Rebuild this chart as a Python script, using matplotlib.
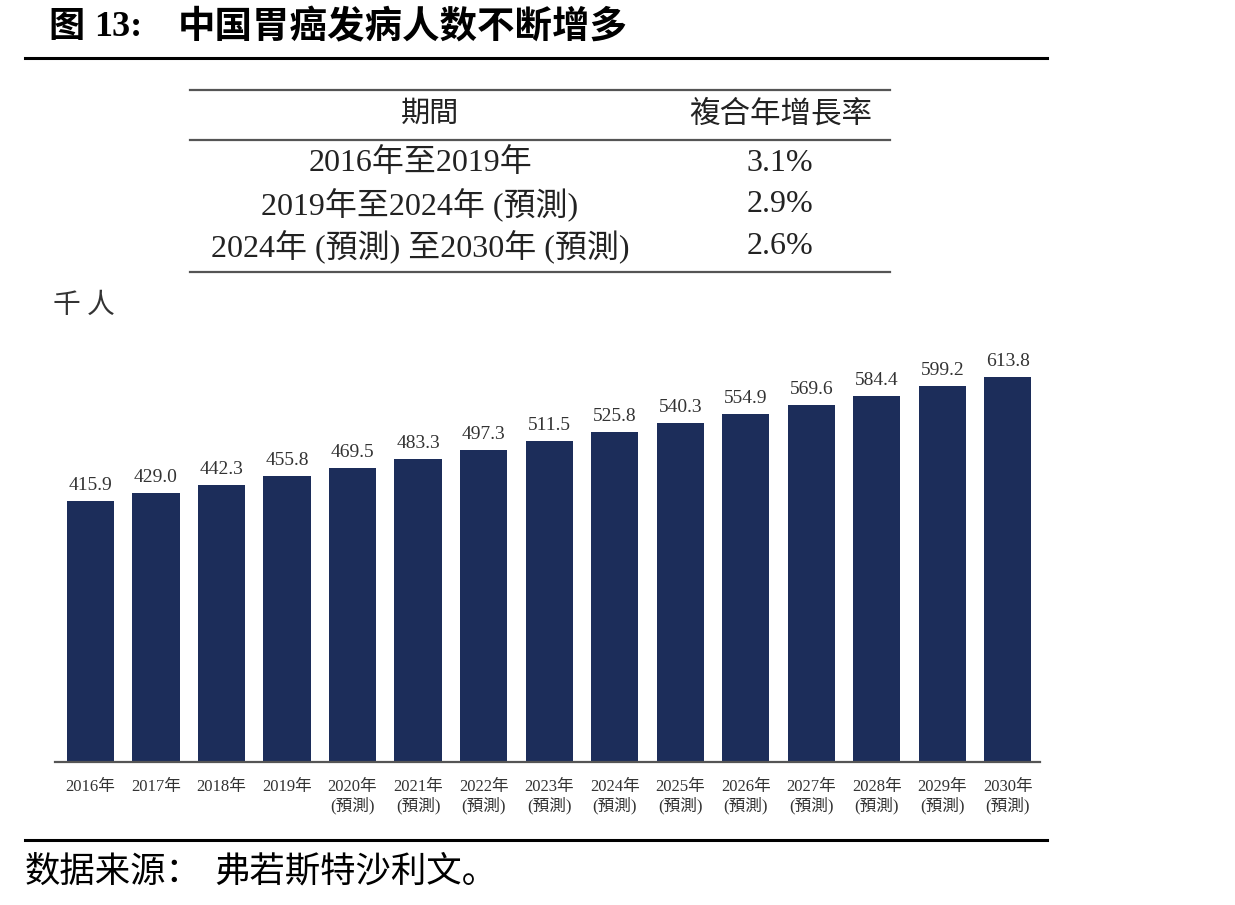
import matplotlib
matplotlib.use("Agg")
import matplotlib.pyplot as plt

years = ["2016年", "2017年", "2018年", "2019年", "2020年", "2021年", "2022年", "2023年",
         "2024年", "2025年", "2026年", "2027年", "2028年", "2029年", "2030年"]
forecast = [False] * 4 + [True] * 11
values = [415.9, 429.0, 442.3, 455.8, 469.5, 483.3, 497.3, 511.5,
          525.8, 540.3, 554.9, 569.6, 584.4, 599.2, 613.8]

periods = ["2016年至2019年", "2019年至2024年 (預測)", "2024年 (預測) 至2030年 (預測)"]
cagr = ["3.1%", "2.9%", "2.6%"]

BAR = "#1c2d5a"
TXT = "#333333"
MIX = ["Liberation Serif", "Noto Sans CJK TC"]
CJK = ["Noto Sans CJK SC", "DejaVu Sans"]

W, H = 1235, 905
fig = plt.figure(figsize=(W / 100, H / 100), dpi=100)


def fx(px):
    return px / W


def fy(py):
    return 1 - py / H


def hline(x0, x1, y, lw, color):
    fig.add_artist(plt.Line2D([fx(x0), fx(x1)], [fy(y), fy(y)], lw=lw, color=color,
                              transform=fig.transFigure))


# title + rules
fig.text(fx(48), fy(27), "图", fontsize=26, fontweight="bold", family=CJK,
         va="center", ha="left", color="black")
fig.text(fx(94), fy(27), "13:", fontsize=26, fontweight="bold", family=MIX,
         va="center", ha="left", color="black")
fig.text(fx(178), fy(27), "中国胃癌发病人数不断增多", fontsize=27, fontweight="bold",
         family=CJK, va="center", ha="left", color="black")
hline(25, 1047, 58, 2.2, "black")
hline(25, 1047, 840, 2.2, "black")
fig.text(fx(25), fy(872), "数据来源：", fontsize=25.5, family=CJK, fontweight="light",
         va="center", ha="left", color="black")
fig.text(fx(214), fy(872), "弗若斯特沙利文。", fontsize=25.5, family=CJK, fontweight="light",
         va="center", ha="left", color="black")

# CAGR table
hline(190, 890, 90, 1.6, "#555555")
hline(190, 890, 140, 1.6, "#555555")
hline(190, 890, 272, 1.6, "#555555")
fig.text(fx(430), fy(114), "期間", fontsize=21, family=CJK, ha="center", va="center", color="#222")
fig.text(fx(781), fy(114), "複合年增長率", fontsize=22, family=CJK, ha="center", va="center",
         color="#222")
for i, (p, c) in enumerate(zip(periods, cagr)):
    y = 163 + 42 * i
    fig.text(fx(420), fy(y), p, fontsize=23, family=MIX, ha="center", va="center", color="#222")
    fig.text(fx(780), fy(y), c, fontsize=23, family=MIX, ha="center", va="center", color="#222")

fig.text(fx(53), fy(305), "千 人", fontsize=20, family=CJK, fontweight="light",
         ha="left", va="center", color=TXT)

# bar chart
ax = fig.add_axes([fx(55), fy(762), fx(1040) - fx(55), fy(330) - fy(762)])
x = list(range(len(values)))
ax.bar(x, values, width=0.72, color=BAR)
for xi, v in zip(x, values):
    ax.annotate(f"{v:.1f}", (xi, v), textcoords="offset points", xytext=(0, 5),
                ha="center", va="bottom", fontsize=14, family=MIX, color=TXT)
labels = [y + ("\n(預測)" if f else "") for y, f in zip(years, forecast)]
ax.set_xticks(x)
ax.set_xticklabels(labels, fontsize=12, family=MIX, color=TXT, va="top", linespacing=1.15)
ax.tick_params(axis="x", length=0, pad=12)
ax.set_yticks([])
ax.set_xlim(-0.54, 14.49)
ax.set_ylim(0, 689)
for s in ["top", "right", "left"]:
    ax.spines[s].set_visible(False)
ax.spines["bottom"].set_color("#555555")
ax.spines["bottom"].set_linewidth(1.6)

fig.savefig("out.png", dpi=100)
